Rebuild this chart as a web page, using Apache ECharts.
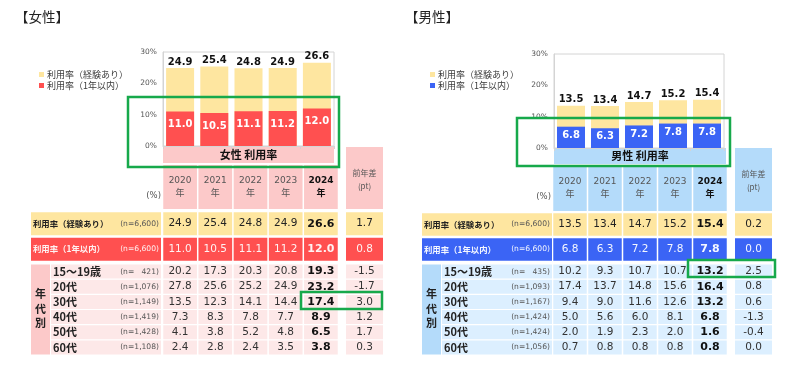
<!DOCTYPE html>
<html><head><meta charset="utf-8">
<script src="https://cdn.jsdelivr.net/npm/echarts@6/dist/echarts.min.js"></script>
<style>html,body{margin:0;padding:0;background:#fff}#c{width:800px;height:366px}</style>
</head><body><div id="c"></div>
<script>
// ---------- data ----------
const years = ['2020', '2021', '2022', '2023', '2024'];
const yearLabels = ['2020\n年', '2021\n年', '2022\n年', '2023\n年', '2024\n年'];
const seriesNames = ['利用率（経験あり）', '利用率（1年以内）'];
const summaryN = '(n=6,600)';
const ageGroups = ['15～19歳', '20代', '30代', '40代', '50代', '60代'];
const ageHeader = '年\n代\n別';
const diffHeader = '前年差\n(pt)';
const panelTitles = ['【女性】', '【男性】'];
const bandTitles = ['女性 利用率', '男性 利用率'];

const femaleExp = [24.9, 25.4, 24.8, 24.9, 26.6];
const femaleIn = [11.0, 10.5, 11.1, 11.2, 12.0];
const femaleSumDiff = [1.7, 0.8];
const femaleN = ['\u2007\u2008421', '1,076', '1,149', '1,419', '1,428', '1,108'];
const femaleAge = [
  [20.2, 17.3, 20.3, 20.8, 19.3],
  [27.8, 25.6, 25.2, 24.9, 23.2],
  [13.5, 12.3, 14.1, 14.4, 17.4],
  [7.3, 8.3, 7.8, 7.7, 8.9],
  [4.1, 3.8, 5.2, 4.8, 6.5],
  [2.4, 2.8, 2.4, 3.5, 3.8]
];
const femaleAgeDiff = [-1.5, -1.7, 3.0, 1.2, 1.7, 0.3];

const maleExp = [13.5, 13.4, 14.7, 15.2, 15.4];
const maleIn = [6.8, 6.3, 7.2, 7.8, 7.8];
const maleSumDiff = [0.2, 0.0];
const maleN = ['\u2007\u2008435', '1,093', '1,167', '1,424', '1,424', '1,056'];
const maleAge = [
  [10.2, 9.3, 10.7, 10.7, 13.2],
  [17.4, 13.7, 14.8, 15.6, 16.4],
  [9.4, 9.0, 11.6, 12.6, 13.2],
  [5.0, 5.6, 6.0, 8.1, 6.8],
  [2.0, 1.9, 2.3, 2.0, 1.6],
  [0.7, 0.8, 0.8, 0.8, 0.8]
];
const maleAgeDiff = [2.5, 0.8, 0.6, -1.3, -0.4, 0.0];

// ---------- styles / layout ----------
const JP = '"Noto Sans CJK JP", sans-serif';
const NUM = '"DejaVu Sans", "Noto Sans CJK JP", sans-serif';
const YEL = '#fee6a0';
const GREEN = '#17a94b';

const PANELS = [
  {
    exp: femaleExp, inn: femaleIn, sumDiff: femaleSumDiff, n: femaleN, age: femaleAge, ageDiff: femaleAgeDiff,
    inColor: '#ff5050', inText: '#fff2f2', mid: '#fcc9c9', light: '#fde8e8',
    title: panelTitles[0], band: bandTitles[0],
    titleX: 15, legendLeft: 34,
    plot: [163, 334, 52, 146], bandR: [163, 334, 147, 163],
    lab: [31, 161], yrs: [162.5, 338.5], diff: [346, 383],
    headY: [165, 209], diffHeadY: [147, 209], sumY: [211, 262], ageY: [264, 355],
    ageHdr: [31, 50], ageLab: [51, 161], pct: [161, 196], inDist: 8,
    green: [[128, 97, 211, 70], [301, 292, 81, 17]]
  },
  {
    exp: maleExp, inn: maleIn, sumDiff: maleSumDiff, n: maleN, age: maleAge, ageDiff: maleAgeDiff,
    inColor: '#3b64f5', inText: '#f4f7ff', mid: '#b4dbfa', light: '#dcefff',
    title: panelTitles[1], band: bandTitles[1],
    titleX: 405, legendLeft: 425,
    plot: [554, 724, 54, 148], bandR: [554, 726, 148, 164],
    lab: [422, 552], yrs: [552.5, 727.5], diff: [735, 772],
    headY: [166, 211], diffHeadY: [148, 211], sumY: [212, 262], ageY: [264, 355],
    ageHdr: [422, 441], ageLab: [442, 552], pct: [551, 197], inDist: 3.5,
    green: [[517, 118, 213, 48], [688, 260, 87, 17]]
  }
];

const option = {
  animation: false,
  grid: [], xAxis: [], yAxis: [], series: [], legend: [], graphic: []
};

function addGrid(x0, x1, y0, y1, extra) {
  option.grid.push(Object.assign({ left: x0, top: y0, width: x1 - x0, height: y1 - y0, outerBoundsMode: 'none', containLabel: false }, extra || {}));
  return option.grid.length - 1;
}

function makeRender(cells, gx, gy) {
  return function (params, api) {
    const c = cells[params.dataIndex];
    const ctr = api.coord([api.value(0), api.value(1)]);
    const sz = api.size([1, 1]);
    const w = sz[0] - gx, h = sz[1] - gy;
    const x = ctr[0] - w / 2, y = ctr[1] - h / 2;
    const children = [{ type: 'rect', shape: { x: x, y: y, width: w, height: h }, style: { fill: c.fill } }];
    (c.texts || []).forEach(function (t) {
      const pad = t.pad == null ? 2 : t.pad;
      const tx = t.align === 'left' ? x + pad : t.align === 'right' ? x + w - pad : ctr[0];
      children.push({
        type: 'text',
        style: {
          text: t.t, x: tx, y: ctr[1] + (t.dy || 0), align: t.align || 'center', verticalAlign: 'middle',
          fill: t.color || '#222', fontSize: t.size || 10.5, fontWeight: t.bold ? 'bold' : 'normal',
          fontFamily: t.family || NUM, lineHeight: t.lh || undefined
        }
      });
    });
    return { type: 'group', children: children };
  };
}

function addBlock(x0, x1, y0, y1, xCats, yCats, cells, gx, gy) {
  const g = addGrid(x0, x1, y0, y1);
  option.xAxis.push({ type: 'category', gridIndex: g, data: xCats, show: false });
  option.yAxis.push({ type: 'category', gridIndex: g, data: yCats, inverse: true, show: false });
  option.series.push({
    type: 'custom', xAxisIndex: g, yAxisIndex: g, silent: true,
    data: cells.map(function (c) { return [c.x, c.y]; }),
    renderItem: makeRender(cells, gx, gy)
  });
}

const fmt = function (v) { return v.toFixed(1); };

PANELS.forEach(function (P) {
  // ----- bar chart -----
  const g = addGrid(P.plot[0], P.plot[1], P.plot[2], P.plot[3], { show: true, borderColor: '#d4d4d4', borderWidth: 1 });
  option.xAxis.push({
    type: 'category', gridIndex: g, data: years,
    axisLabel: { show: false },
    axisLine: { show: true, lineStyle: { color: '#d4d4d4' } },
    axisTick: { show: true, length: 3, lineStyle: { color: '#d4d4d4' } }
  });
  option.yAxis.push({
    type: 'value', gridIndex: g, min: 0, max: 30, interval: 10,
    axisLabel: { formatter: '{value}%', fontSize: 7.5, color: '#555', margin: 6, fontFamily: NUM },
    axisLine: { show: true, lineStyle: { color: '#d4d4d4' } },
    axisTick: { show: false }, splitLine: { show: false }
  });
  option.series.push({
    type: 'bar', name: seriesNames[0], xAxisIndex: g, yAxisIndex: g, data: P.exp,
    barWidth: 28, barGap: '-100%', itemStyle: { color: YEL },
    label: { show: true, position: 'top', distance: 1, color: '#111', fontWeight: 'bold', fontSize: 10, fontFamily: NUM, formatter: function (p) { return fmt(p.value); } }
  });
  option.series.push({
    type: 'bar', name: seriesNames[1], xAxisIndex: g, yAxisIndex: g, data: P.inn,
    barWidth: 28, barGap: '-100%', itemStyle: { color: P.inColor },
    label: { show: true, position: 'insideTop', distance: P.inDist, color: '#fff', fontWeight: 'bold', fontSize: 10, fontFamily: NUM, formatter: function (p) { return fmt(p.value); } }
  });
  option.legend.push({
    left: P.legendLeft, top: 65, orient: 'vertical', icon: 'rect', itemWidth: 5, itemHeight: 5, itemGap: 2,
    selectedMode: false,
    textStyle: { fontSize: 9, color: '#3a3a3a', fontFamily: JP, padding: [0, 0, 0, -2] },
    data: [
      { name: seriesNames[0], itemStyle: { color: YEL } },
      { name: seriesNames[1], itemStyle: { color: P.inColor } }
    ]
  });

  // ----- header -----
  addBlock(P.yrs[0], P.yrs[1], P.headY[0], P.headY[1], years, ['head'],
    years.map(function (y, i) {
      return { x: i, y: 0, fill: P.mid, texts: [{ t: yearLabels[i], size: 9, lh: 13, bold: i === 4, color: i === 4 ? '#111' : '#555' }] };
    }), 1.5, 0);
  addBlock(P.diff[0], P.diff[1], P.diffHeadY[0], P.diffHeadY[1], ['diff'], ['head'],
    [{ x: 0, y: 0, fill: P.mid, texts: [{ t: diffHeader, size: 8, lh: 13, color: '#555', family: JP, dy: 1 }] }], 0, 0);

  // ----- summary rows -----
  const sumRows = [P.exp, P.inn];
  const sumFill = [YEL, P.inColor];
  const sumText = ['#222', P.inText];
  const sumCells = [], sumLab = [], sumDiffCells = [];
  sumRows.forEach(function (vals, r) {
    vals.forEach(function (v, i) {
      sumCells.push({ x: i, y: r, fill: sumFill[r], texts: [{ t: fmt(v), size: i === 4 ? 11 : 10.5, bold: i === 4, color: i === 4 && r === 0 ? '#111' : sumText[r] }] });
    });
    sumLab.push({ x: 0, y: r, fill: sumFill[r], texts: [
      { t: seriesNames[r], align: 'left', pad: 2, size: 8.4, bold: true, family: JP, color: r === 0 ? '#222' : sumText[r] },
      { t: summaryN, align: 'right', pad: 2, size: 7.6, color: r === 0 ? '#555' : sumText[r] }
    ] });
    sumDiffCells.push({ x: 0, y: r, fill: sumFill[r], texts: [{ t: fmt(P.sumDiff[r]), size: 10.5, color: sumText[r] }] });
  });
  addBlock(P.yrs[0], P.yrs[1], P.sumY[0], P.sumY[1], years, seriesNames, sumCells, 1.5, 2.5);
  addBlock(P.lab[0], P.lab[1], P.sumY[0], P.sumY[1], ['label'], seriesNames, sumLab, 0, 2.5);
  addBlock(P.diff[0], P.diff[1], P.sumY[0], P.sumY[1], ['diff'], seriesNames, sumDiffCells, 0, 2.5);

  // ----- age rows -----
  const ageCells = [], ageLabCells = [], ageDiffCells = [];
  P.age.forEach(function (vals, r) {
    vals.forEach(function (v, i) {
      ageCells.push({ x: i, y: r, fill: P.light, texts: [{ t: fmt(v), size: i === 4 ? 11 : 10.5, bold: i === 4, color: i === 4 ? '#111' : '#333' }] });
    });
    ageLabCells.push({ x: 0, y: r, fill: P.light, texts: [
      { t: ageGroups[r], align: 'left', pad: 2, size: 11, bold: true, family: JP, color: '#222' },
      { t: '(n=' + P.n[r] + ')', align: 'right', pad: 2, size: 7.6, color: '#555' }
    ] });
    ageDiffCells.push({ x: 0, y: r, fill: P.light, texts: [{ t: fmt(P.ageDiff[r]), size: 10.5, color: '#333' }] });
  });
  addBlock(P.yrs[0], P.yrs[1], P.ageY[0], P.ageY[1], years, ageGroups, ageCells, 1.5, 1.2);
  addBlock(P.ageLab[0], P.ageLab[1], P.ageY[0], P.ageY[1], ['label'], ageGroups, ageLabCells, 0, 1.2);
  addBlock(P.diff[0], P.diff[1], P.ageY[0], P.ageY[1], ['diff'], ageGroups, ageDiffCells, 0, 1.2);
  addBlock(P.ageHdr[0], P.ageHdr[1], P.ageY[0], P.ageY[1], ['hdr'], ['all'],
    [{ x: 0, y: 0, fill: P.mid, texts: [{ t: ageHeader, size: 11, bold: true, lh: 14.5, family: JP, color: '#222', dy: -1 }] }], 0, 1.2);

  // ----- decorations -----
  option.graphic.push({ type: 'text', left: P.titleX, top: 10, style: { text: P.title, fontSize: 13.5, fontFamily: JP, fill: '#222' } });
  option.graphic.push({ type: 'rect', shape: { x: P.bandR[0], y: P.bandR[2], width: P.bandR[1] - P.bandR[0], height: P.bandR[3] - P.bandR[2] }, style: { fill: P.mid } });
  option.graphic.push({ type: 'text', style: { text: P.band, x: (P.bandR[0] + P.bandR[1]) / 2, y: (P.bandR[2] + P.bandR[3]) / 2, align: 'center', verticalAlign: 'middle', fontSize: 11, fontWeight: 'bold', fontFamily: JP, fill: '#111' } });
  option.graphic.push({ type: 'text', style: { text: '(%)', x: P.pct[0], y: P.pct[1], align: 'right', verticalAlign: 'middle', fontSize: 8.5, fontFamily: NUM, fill: '#555' } });
  P.green.forEach(function (r) {
    option.graphic.push({ type: 'rect', z: 100, shape: { x: r[0], y: r[1], width: r[2], height: r[3] }, style: { fill: 'none', stroke: GREEN, lineWidth: 2.5 } });
  });
});

const chart = echarts.init(document.getElementById('c'), null, { renderer: 'canvas' });
chart.setOption(option);
</script>
</body></html>
